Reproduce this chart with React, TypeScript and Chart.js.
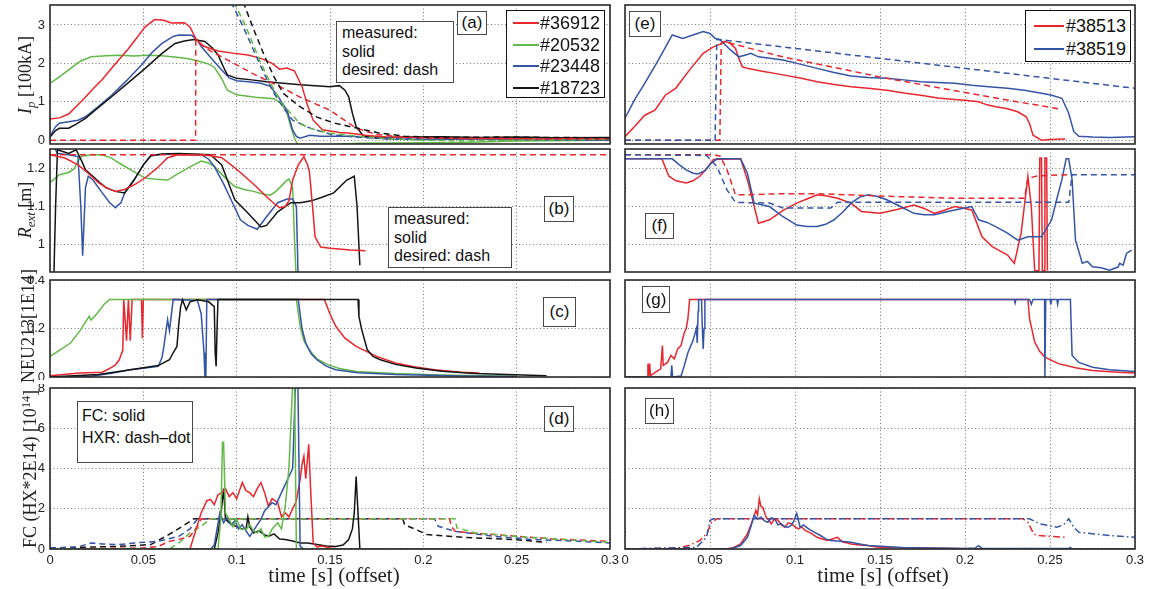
import React, { useEffect, useRef } from "react";
import { Chart, registerables } from "chart.js";
Chart.register(...registerables);

type Pt = [number, number];

const RED = "#e8262d";
const GREEN = "#63b948";
const BLUE = "#3454a6";
const BLACK = "#141414";

const X_TICKS = [0, 0.05, 0.1, 0.15, 0.2, 0.25, 0.3];
const X_TICK_LABELS = ["0", "0.05", "0.1", "0.15", "0.2", "0.25", "0.3"];
const IP_TICKS = [0, 1, 2, 3];
const IP_TICK_LABELS = ["0", "1", "2", "3"];
const REXT_TICKS = [1, 1.1, 1.2];
const REXT_TICK_LABELS = ["1", "1.1", "1.2"];
const NEU_TICKS = [0, 0.2, 0.4];
const NEU_TICK_LABELS = ["0", "0.2", "0.4"];
const FC_TICKS = [0, 2, 4, 6, 8];
const FC_TICK_LABELS = ["0", "2", "4", "6", "8"];

const LEFT_SHOTS = ["#36912", "#20532", "#23448", "#18723"];
const RIGHT_SHOTS = ["#38513", "#38519"];

// ---------- panel (a): plasma current ----------
const ipMeas36912: Pt[] = [[0,0.55],[0.005,0.58],[0.01,0.68],[0.017,1.02],[0.023,1.33],[0.028,1.58],[0.033,1.87],[0.042,2.38],[0.051,2.95],[0.056,3.14],[0.061,3.12],[0.065,3.05],[0.072,3.06],[0.075,2.95],[0.078,2.65],[0.082,2.45],[0.09,2.32],[0.099,2.26],[0.106,2.22],[0.113,2.13],[0.119,2.0],[0.123,1.85],[0.127,1.88],[0.131,1.8],[0.135,1.4],[0.138,0.9],[0.141,0.52],[0.146,0.27],[0.155,0.2],[0.161,0.18],[0.17,0.12],[0.18,0.08],[0.2,0.06],[0.22,0.04],[0.24,0.05],[0.26,0.03],[0.28,0.04],[0.3,0.03]];
const ipDes36912: Pt[] = [[0,0],[0.078,0],[0.0781,2.6],[0.085,2.35],[0.095,2.09],[0.11,1.7],[0.125,1.35],[0.134,1.12],[0.15,0.78],[0.164,0.31],[0.175,0.15],[0.19,0.08],[0.21,0.05],[0.24,0.04],[0.27,0.03],[0.3,0.03]];
const ipMeas20532: Pt[] = [[0,1.48],[0.005,1.65],[0.01,1.83],[0.016,2.05],[0.022,2.17],[0.03,2.2],[0.037,2.21],[0.045,2.19],[0.052,2.21],[0.06,2.2],[0.068,2.16],[0.074,2.12],[0.081,2.04],[0.085,1.98],[0.088,1.9],[0.092,1.6],[0.095,1.3],[0.1,1.18],[0.11,1.12],[0.12,1.08],[0.124,0.95],[0.127,0.7],[0.129,0.35],[0.131,0.05],[0.133,-0.15],[0.15,-0.12],[0.165,-0.08],[0.2,-0.07],[0.22,-0.06],[0.25,-0.02],[0.3,0.0]];
const ipDes20532: Pt[] = [[0.0985,3.6],[0.105,2.95],[0.113,2.0],[0.118,1.5],[0.123,1.04],[0.128,0.75],[0.134,0.43],[0.14,0.3],[0.15,0.18],[0.165,0.1],[0.18,0.04],[0.2,0.0],[0.22,-0.02],[0.25,0.0],[0.3,0.02]];
const ipMeas23448: Pt[] = [[0,0.1],[0.003,0.35],[0.005,0.44],[0.01,0.48],[0.015,0.52],[0.019,0.61],[0.026,0.88],[0.033,1.17],[0.041,1.55],[0.049,1.96],[0.055,2.3],[0.06,2.52],[0.066,2.7],[0.069,2.74],[0.076,2.73],[0.079,2.6],[0.081,2.44],[0.087,2.1],[0.092,1.83],[0.096,1.62],[0.1,1.55],[0.106,1.52],[0.113,1.48],[0.118,1.4],[0.122,1.15],[0.127,0.78],[0.13,0.26],[0.132,0.1],[0.134,0.05],[0.139,0.13],[0.145,0.1],[0.16,0.1],[0.17,0.08],[0.18,0.03],[0.2,0.02],[0.23,0.03],[0.26,0.01],[0.3,0.0]];
const ipDes23448: Pt[] = [[0.097,3.6],[0.104,2.9],[0.111,2.13],[0.116,1.6],[0.12,1.22],[0.125,0.85],[0.13,0.52],[0.14,0.3],[0.152,0.13],[0.17,0.06],[0.2,0.04],[0.25,0.03],[0.3,0.01]];
const ipMeas18723: Pt[] = [[0,0.08],[0.003,0.25],[0.005,0.31],[0.01,0.31],[0.014,0.42],[0.019,0.57],[0.026,0.85],[0.033,1.13],[0.042,1.5],[0.051,1.87],[0.06,2.26],[0.067,2.52],[0.072,2.58],[0.077,2.62],[0.083,2.57],[0.087,2.4],[0.09,2.22],[0.093,1.9],[0.095,1.7],[0.1,1.61],[0.108,1.57],[0.116,1.52],[0.125,1.48],[0.134,1.44],[0.142,1.42],[0.15,1.39],[0.155,1.42],[0.158,1.3],[0.16,1.13],[0.162,0.7],[0.164,0.35],[0.168,0.1],[0.175,0.06],[0.19,0.08],[0.21,0.09],[0.23,0.07],[0.25,0.08],[0.27,0.06],[0.3,0.07]];
const ipDes18723: Pt[] = [[0.1035,3.6],[0.109,2.9],[0.115,2.18],[0.12,1.65],[0.125,1.22],[0.133,0.9],[0.143,0.6],[0.152,0.45],[0.161,0.35],[0.175,0.2],[0.19,0.1],[0.21,0.07],[0.24,0.08],[0.27,0.07],[0.3,0.06]];

// ---------- panel (b): R_ext ----------
const rextDes36912: Pt[] = [[0,1.237],[0.3,1.237]];
const rextMeas36912: Pt[] = [[0,1.237],[0.008,1.228],[0.015,1.21],[0.02,1.19],[0.026,1.163],[0.03,1.15],[0.035,1.14],[0.04,1.145],[0.046,1.16],[0.051,1.176],[0.057,1.2],[0.063,1.229],[0.068,1.236],[0.074,1.237],[0.085,1.235],[0.092,1.229],[0.097,1.21],[0.102,1.19],[0.11,1.155],[0.116,1.126],[0.12,1.108],[0.123,1.097],[0.126,1.1],[0.128,1.115],[0.13,1.17],[0.133,1.21],[0.136,1.232],[0.138,1.21],[0.139,1.19],[0.141,1.08],[0.142,1.02],[0.145,0.993],[0.15,0.99],[0.161,0.985],[0.169,0.983]];
const rextMeas20532: Pt[] = [[0,1.163],[0.005,1.184],[0.01,1.19],[0.013,1.2],[0.015,1.22],[0.017,1.233],[0.022,1.237],[0.028,1.237],[0.033,1.228],[0.037,1.215],[0.044,1.195],[0.051,1.175],[0.057,1.172],[0.063,1.17],[0.068,1.185],[0.074,1.202],[0.081,1.22],[0.085,1.215],[0.088,1.206],[0.094,1.175],[0.099,1.153],[0.104,1.145],[0.109,1.14],[0.114,1.133],[0.118,1.13],[0.121,1.14],[0.123,1.15],[0.126,1.165],[0.128,1.173],[0.13,1.15],[0.131,1.01],[0.132,0.9]];
const rextMeas23448: Pt[] = [[0.002,1.26],[0.004,1.24],[0.01,1.237],[0.015,1.232],[0.0165,1.1],[0.0175,0.97],[0.019,1.15],[0.0205,1.18],[0.023,1.17],[0.028,1.136],[0.032,1.11],[0.035,1.097],[0.038,1.11],[0.04,1.136],[0.045,1.17],[0.05,1.21],[0.054,1.234],[0.06,1.238],[0.07,1.238],[0.081,1.237],[0.085,1.225],[0.088,1.206],[0.093,1.16],[0.097,1.118],[0.102,1.065],[0.106,1.05],[0.111,1.04],[0.116,1.073],[0.122,1.11],[0.127,1.12],[0.13,1.12],[0.132,1.1],[0.1325,1.0],[0.133,0.9]];
const rextMeas18723: Pt[] = [[0.002,0.9],[0.003,1.1],[0.004,1.25],[0.01,1.24],[0.014,1.25],[0.017,1.22],[0.019,1.197],[0.023,1.18],[0.026,1.166],[0.03,1.15],[0.035,1.14],[0.04,1.136],[0.045,1.17],[0.05,1.21],[0.054,1.234],[0.06,1.239],[0.069,1.24],[0.08,1.238],[0.086,1.237],[0.092,1.21],[0.095,1.17],[0.099,1.118],[0.106,1.083],[0.113,1.046],[0.116,1.05],[0.122,1.086],[0.129,1.11],[0.134,1.11],[0.14,1.115],[0.145,1.123],[0.152,1.136],[0.159,1.17],[0.163,1.18],[0.1645,1.1],[0.166,0.945]];

// ---------- panel (c): NEU213 ----------
const neu36912: Pt[] = [[0,0.005],[0.016,0.016],[0.028,0.02],[0.033,0.04],[0.035,0.05],[0.037,0.07],[0.039,0.11],[0.0395,0.32],[0.041,0.15],[0.042,0.32],[0.043,0.15],[0.044,0.32],[0.048,0.32],[0.049,0.32],[0.0495,0.16],[0.05,0.32],[0.147,0.32],[0.15,0.26],[0.153,0.21],[0.158,0.16],[0.164,0.126],[0.175,0.085],[0.185,0.058],[0.195,0.042],[0.206,0.03],[0.22,0.02],[0.23,0.016]];
const neu20532: Pt[] = [[0,0.085],[0.005,0.11],[0.011,0.14],[0.016,0.19],[0.021,0.25],[0.022,0.235],[0.025,0.26],[0.029,0.3],[0.032,0.32],[0.132,0.32],[0.134,0.21],[0.136,0.15],[0.139,0.11],[0.143,0.075],[0.149,0.05],[0.155,0.035],[0.164,0.023],[0.185,0.014],[0.21,0.008],[0.25,0.003]];
const neu23448: Pt[] = [[0,0],[0.022,0.003],[0.033,0.015],[0.043,0.03],[0.05,0.036],[0.058,0.044],[0.06,0.08],[0.061,0.126],[0.063,0.236],[0.064,0.19],[0.066,0.32],[0.079,0.315],[0.081,0.26],[0.0825,0.1],[0.083,0],[0.0835,0],[0.084,0.32],[0.133,0.32],[0.135,0.2],[0.137,0.14],[0.14,0.095],[0.143,0.071],[0.148,0.045],[0.153,0.03],[0.165,0.018],[0.185,0.01],[0.22,0.004],[0.25,0.002]];
const neu18723: Pt[] = [[0,0],[0.026,0.01],[0.043,0.03],[0.058,0.047],[0.064,0.071],[0.066,0.1],[0.068,0.126],[0.069,0.22],[0.07,0.29],[0.071,0.318],[0.073,0.277],[0.075,0.31],[0.079,0.318],[0.085,0.31],[0.088,0.29],[0.0885,0.1],[0.089,0.044],[0.0895,0.2],[0.09,0.32],[0.165,0.32],[0.1655,0.25],[0.167,0.195],[0.17,0.112],[0.173,0.085],[0.177,0.071],[0.185,0.052],[0.196,0.037],[0.21,0.024],[0.228,0.014],[0.266,0.005]];

// ---------- panel (d): FC (solid) and HXR (dash-dot) ----------
const fc36912: Pt[] = [[0,0],[0.075,0],[0.078,0.9],[0.081,1.8],[0.084,2.4],[0.086,2.47],[0.088,2.2],[0.09,2.7],[0.092,2.8],[0.094,3.0],[0.096,2.6],[0.098,2.8],[0.1,2.5],[0.103,3.3],[0.105,2.9],[0.107,2.8],[0.109,2.6],[0.111,3.0],[0.113,3.3],[0.115,2.8],[0.117,2.13],[0.119,2.5],[0.122,2.3],[0.124,1.6],[0.126,1.8],[0.128,1.6],[0.13,2.0],[0.132,2.4],[0.134,3.47],[0.135,4.2],[0.136,4.6],[0.137,3.5],[0.1386,5.2],[0.1396,3.0],[0.141,0.3],[0.143,0.1],[0.146,0.15],[0.15,0.05],[0.155,0],[0.3,0]];
const fc20532: Pt[] = [[0,0],[0.09,0],[0.0915,1.5],[0.0924,5.3],[0.093,5.3],[0.094,1.8],[0.096,1.47],[0.098,1.1],[0.1,1.5],[0.102,1.0],[0.105,0.97],[0.107,1.2],[0.109,0.9],[0.111,0.8],[0.113,1.0],[0.115,0.6],[0.117,0.63],[0.119,1.0],[0.122,1.3],[0.124,1.0],[0.126,2.1],[0.128,4.0],[0.13,8.2],[0.131,8.2],[0.132,0],[0.3,0]];
const fc23448: Pt[] = [[0,0],[0.086,0],[0.088,0.2],[0.091,1.8],[0.093,1.3],[0.095,1.6],[0.097,1.2],[0.099,1.4],[0.101,1.0],[0.103,1.2],[0.105,0.9],[0.107,0.63],[0.109,0.9],[0.111,1.2],[0.113,1.47],[0.115,1.9],[0.117,2.1],[0.119,2.3],[0.121,2.2],[0.124,2.8],[0.126,3.2],[0.128,3.6],[0.13,4.0],[0.1315,8.2],[0.1328,8.2],[0.134,0.13],[0.136,0],[0.3,0]];
const fc18723: Pt[] = [[0,0],[0.088,0],[0.09,0.8],[0.092,2.1],[0.093,3.0],[0.094,1.5],[0.096,1.3],[0.098,1.2],[0.1,1.1],[0.103,1.0],[0.105,0.97],[0.106,1.6],[0.107,1.1],[0.109,0.8],[0.112,0.9],[0.115,0.7],[0.117,0.63],[0.12,0.75],[0.123,0.5],[0.126,0.47],[0.13,0.4],[0.134,0.3],[0.138,0.3],[0.143,0.22],[0.148,0.15],[0.153,0.13],[0.157,0.2],[0.16,0.47],[0.162,1.0],[0.163,1.8],[0.164,3.6],[0.165,1.8],[0.166,0],[0.3,0]];
const hxr36912: Pt[] = [[0,0],[0.05,0.05],[0.058,0.13],[0.064,0.38],[0.07,0.5],[0.075,0.63],[0.079,1.13],[0.081,1.5],[0.214,1.5],[0.215,1.13],[0.217,0.88],[0.225,0.8],[0.238,0.72],[0.255,0.6],[0.27,0.5],[0.3,0.38]];
const hxr20532: Pt[] = [[0,0],[0.064,0],[0.069,0.3],[0.075,0.8],[0.081,1.13],[0.086,1.5],[0.217,1.5],[0.218,1.05],[0.228,0.8],[0.249,0.63],[0.27,0.5],[0.3,0.33]];
const hxr23448: Pt[] = [[0,0.05],[0.015,0.1],[0.022,0.3],[0.028,0.25],[0.037,0.22],[0.045,0.3],[0.058,0.38],[0.069,0.63],[0.075,1.0],[0.079,1.5],[0.206,1.5],[0.208,1.13],[0.217,0.88],[0.238,0.63],[0.259,0.47],[0.28,0.4],[0.3,0.3]];
const hxr18723: Pt[] = [[0,0.05],[0.037,0.13],[0.054,0.22],[0.062,0.63],[0.067,0.9],[0.071,1.13],[0.077,1.5],[0.189,1.5],[0.19,1.2],[0.196,0.97],[0.202,0.72],[0.215,0.62],[0.228,0.55],[0.249,0.47],[0.266,0.33]];

// ---------- panel (e) ----------
const ip38513: Pt[] = [[0,0.09],[0.0055,0.35],[0.0116,0.65],[0.0176,0.78],[0.0237,1.17],[0.0298,1.35],[0.038,1.83],[0.046,2.26],[0.052,2.43],[0.056,2.5],[0.059,2.57],[0.062,2.52],[0.065,2.39],[0.067,2.13],[0.069,1.91],[0.072,1.87],[0.08,1.8],[0.093,1.7],[0.103,1.62],[0.113,1.52],[0.123,1.45],[0.133,1.39],[0.143,1.35],[0.154,1.3],[0.164,1.23],[0.174,1.17],[0.184,1.1],[0.194,1.06],[0.2,1.04],[0.208,1.0],[0.213,0.92],[0.218,0.87],[0.225,0.82],[0.231,0.74],[0.236,0.61],[0.238,0.43],[0.24,0.13],[0.245,0],[0.25,0.02],[0.259,0.03]];
const ipDes38513: Pt[] = [[0,0],[0.0558,0],[0.0566,2.52],[0.058,2.57],[0.0927,2.17],[0.154,1.61],[0.214,1.13],[0.257,0.8]];
const ip38519: Pt[] = [[0,0.57],[0.0055,1.04],[0.0116,1.48],[0.0197,2.09],[0.0278,2.74],[0.0339,2.65],[0.04,2.74],[0.046,2.83],[0.05,2.78],[0.053,2.65],[0.056,2.61],[0.062,2.35],[0.067,2.17],[0.071,2.22],[0.074,2.26],[0.0785,2.17],[0.093,2.09],[0.103,1.98],[0.113,1.87],[0.123,1.76],[0.133,1.67],[0.143,1.63],[0.154,1.61],[0.164,1.57],[0.174,1.52],[0.184,1.5],[0.194,1.48],[0.204,1.43],[0.214,1.39],[0.225,1.35],[0.235,1.3],[0.245,1.22],[0.251,1.17],[0.257,1.09],[0.261,0.7],[0.264,0.22],[0.267,0.1],[0.275,0.08],[0.285,0.07],[0.3,0.09]];
const ipDes38519: Pt[] = [[0,0],[0.053,0],[0.054,2.63],[0.3,1.35]];

// ---------- panel (f) ----------
const rextDes38513: Pt[] = [[0,1.237],[0.052,1.237],[0.056,1.233],[0.06,1.197],[0.065,1.131],[0.072,1.131],[0.093,1.134],[0.113,1.134],[0.154,1.127],[0.194,1.122],[0.235,1.122],[0.237,1.175],[0.243,1.181],[0.26,1.184]];
const rextDes38519: Pt[] = [[0,1.237],[0.048,1.235],[0.054,1.206],[0.06,1.144],[0.065,1.111],[0.085,1.109],[0.093,1.096],[0.121,1.096],[0.125,1.111],[0.206,1.111],[0.261,1.111],[0.263,1.184],[0.3,1.184]];
const rext38513: Pt[] = [[0,1.226],[0.0217,1.226],[0.0258,1.18],[0.03,1.168],[0.036,1.162],[0.04,1.168],[0.044,1.18],[0.048,1.2],[0.052,1.224],[0.068,1.226],[0.072,1.171],[0.0785,1.056],[0.085,1.065],[0.093,1.09],[0.101,1.109],[0.107,1.12],[0.113,1.131],[0.119,1.128],[0.125,1.122],[0.133,1.109],[0.139,1.087],[0.15,1.082],[0.16,1.092],[0.17,1.104],[0.176,1.095],[0.182,1.082],[0.188,1.09],[0.194,1.1],[0.2,1.095],[0.204,1.091],[0.21,1.02],[0.216,0.994],[0.225,0.972],[0.229,0.95],[0.233,1.029],[0.237,1.18],[0.239,1.1],[0.241,0.93],[0.2435,0.93],[0.244,1.228],[0.245,1.228],[0.2455,0.93],[0.2465,0.93],[0.247,1.228],[0.248,1.228],[0.2485,0.93]];
const rext38519: Pt[] = [[0,1.226],[0.0278,1.226],[0.032,1.21],[0.036,1.197],[0.04,1.188],[0.043,1.186],[0.047,1.195],[0.05,1.211],[0.054,1.226],[0.068,1.226],[0.072,1.188],[0.076,1.109],[0.085,1.1],[0.093,1.073],[0.101,1.051],[0.107,1.047],[0.113,1.047],[0.118,1.053],[0.123,1.065],[0.128,1.085],[0.133,1.109],[0.138,1.125],[0.143,1.131],[0.148,1.127],[0.154,1.118],[0.162,1.1],[0.17,1.082],[0.176,1.078],[0.182,1.078],[0.188,1.085],[0.194,1.091],[0.204,1.1],[0.208,1.065],[0.213,1.058],[0.218,1.047],[0.225,1.03],[0.231,1.011],[0.237,1.02],[0.245,1.02],[0.251,1.065],[0.254,1.12],[0.257,1.171],[0.2595,1.226],[0.261,1.226],[0.263,1.171],[0.265,1.011],[0.269,0.95],[0.272,0.955],[0.275,0.941],[0.28,0.938],[0.285,0.932],[0.29,0.94],[0.291,0.95],[0.293,0.945],[0.295,0.976],[0.298,0.985]];

// ---------- panel (g) ----------
const neu38513: Pt[] = [[0,0],[0.013,0],[0.0135,0.055],[0.014,0.005],[0.0145,0.055],[0.015,0.005],[0.018,0.02],[0.021,0.034],[0.022,0.13],[0.0225,0.048],[0.025,0.06],[0.027,0.089],[0.029,0.075],[0.031,0.116],[0.033,0.13],[0.034,0.16],[0.035,0.185],[0.036,0.2],[0.037,0.24],[0.038,0.32],[0.237,0.32],[0.238,0.24],[0.241,0.144],[0.244,0.105],[0.247,0.082],[0.255,0.055],[0.265,0.038],[0.275,0.027],[0.29,0.02],[0.3,0.016]];
const neu38519: Pt[] = [[0,0],[0.027,0],[0.0275,0.048],[0.028,0],[0.033,0.004],[0.035,0.05],[0.037,0.1],[0.04,0.15],[0.042,0.2],[0.0425,0.14],[0.043,0.27],[0.0433,0.32],[0.045,0.32],[0.0455,0.2],[0.046,0.116],[0.0465,0.2],[0.047,0.32],[0.229,0.32],[0.2295,0.305],[0.23,0.32],[0.238,0.32],[0.239,0.3],[0.24,0.32],[0.2468,0.32],[0.247,0],[0.2475,0.32],[0.25,0.32],[0.2505,0.3],[0.251,0.32],[0.254,0.32],[0.2545,0.3],[0.255,0.32],[0.262,0.32],[0.263,0.089],[0.267,0.06],[0.275,0.04],[0.285,0.03],[0.3,0.023]];

// ---------- panel (h) ----------
const fc38513: Pt[] = [[0,0],[0.06,0],[0.064,0.08],[0.068,0.25],[0.072,0.75],[0.075,1.42],[0.077,1.92],[0.078,1.7],[0.079,2.5],[0.08,2.1],[0.081,2.08],[0.083,1.58],[0.085,1.4],[0.086,1.25],[0.088,1.5],[0.09,1.42],[0.092,1.2],[0.094,1.08],[0.096,1.3],[0.098,1.25],[0.1,1.1],[0.102,1.0],[0.104,1.1],[0.106,0.92],[0.11,0.75],[0.113,0.58],[0.116,0.5],[0.119,0.42],[0.122,0.5],[0.125,0.58],[0.128,0.35],[0.131,0.3],[0.133,0.25],[0.138,0.2],[0.143,0.17],[0.148,0.1],[0.153,0.08],[0.163,0.06],[0.173,0.05],[0.183,0.04],[0.194,0.03],[0.214,0],[0.3,0]];
const fc38519: Pt[] = [[0,0],[0.062,0],[0.068,0.17],[0.072,0.58],[0.074,1.1],[0.076,1.67],[0.078,1.5],[0.08,1.58],[0.082,1.4],[0.084,1.33],[0.086,1.55],[0.088,1.5],[0.09,1.2],[0.092,1.25],[0.094,1.1],[0.096,1.08],[0.098,1.2],[0.099,1.33],[0.101,1.78],[0.103,1.08],[0.105,1.2],[0.108,1.0],[0.111,0.85],[0.115,0.67],[0.118,0.5],[0.121,0.42],[0.127,0.38],[0.133,0.33],[0.138,0.25],[0.143,0.17],[0.153,0.12],[0.163,0.08],[0.18,0.05],[0.2,0.03],[0.206,0.05],[0.208,0.17],[0.21,0.03],[0.23,0.02],[0.261,0.02],[0.262,0.08],[0.263,0],[0.3,0]];
const hxr38513: Pt[] = [[0,0],[0.031,0.05],[0.0375,0.17],[0.044,0.42],[0.048,0.75],[0.051,1.33],[0.054,1.5],[0.234,1.5],[0.237,1.33],[0.2404,0.75],[0.2425,0.67],[0.2586,0.58]];
const hxr38519: Pt[] = [[0,0],[0.042,0.08],[0.048,0.58],[0.05,1.42],[0.052,1.5],[0.238,1.5],[0.244,1.25],[0.254,1.08],[0.258,1.2],[0.261,1.5],[0.264,1.08],[0.267,0.83],[0.285,0.67],[0.3,0.58]];

// ---------- layout ----------
interface Series { data: Pt[]; color: string; dash?: number[] }
interface PanelDef {
  col: 0 | 1; left: number; top: number; right: number; bottom: number;
  yMin: number; yMax: number; yTicks: number[]; yLabels: string[]; showY: boolean; xLabels: boolean;
  series: Series[];
}
const DASH = [6, 4];
const DASHDOT = [7, 3, 1.5, 3];
const LX0 = 50, LX1 = 610, RX0 = 625, RX1 = 1135;
const ROWS = [[5, 144], [149, 272], [280, 377], [388, 549]];

const PANELS: PanelDef[] = [
  { col: 0, left: LX0, right: LX1, top: ROWS[0][0], bottom: ROWS[0][1], yMin: -0.1, yMax: 3.52, yTicks: IP_TICKS, yLabels: IP_TICK_LABELS, showY: true, xLabels: false,
    series: [
      { data: ipDes18723, color: BLACK, dash: DASH }, { data: ipDes36912, color: RED, dash: DASH },
      { data: ipDes20532, color: GREEN, dash: DASH }, { data: ipDes23448, color: BLUE, dash: DASH },
      { data: ipMeas36912, color: RED }, { data: ipMeas18723, color: BLACK },
      { data: ipMeas23448, color: BLUE }, { data: ipMeas20532, color: GREEN },
    ] },
  { col: 0, left: LX0, right: LX1, top: ROWS[1][0], bottom: ROWS[1][1], yMin: 0.927, yMax: 1.252, yTicks: REXT_TICKS, yLabels: REXT_TICK_LABELS, showY: true, xLabels: false,
    series: [
      { data: rextDes36912, color: RED, dash: DASH },
      { data: rextMeas36912, color: RED }, { data: rextMeas18723, color: BLACK },
      { data: rextMeas23448, color: BLUE }, { data: rextMeas20532, color: GREEN },
    ] },
  { col: 0, left: LX0, right: LX1, top: ROWS[2][0], bottom: ROWS[2][1], yMin: 0, yMax: 0.4, yTicks: NEU_TICKS, yLabels: NEU_TICK_LABELS, showY: true, xLabels: false,
    series: [
      { data: neu18723, color: BLACK }, { data: neu23448, color: BLUE },
      { data: neu20532, color: GREEN }, { data: neu36912, color: RED },
    ] },
  { col: 0, left: LX0, right: LX1, top: ROWS[3][0], bottom: ROWS[3][1], yMin: 0, yMax: 8, yTicks: FC_TICKS, yLabels: FC_TICK_LABELS, showY: true, xLabels: true,
    series: [
      { data: fc20532, color: GREEN }, { data: fc23448, color: BLUE },
      { data: fc36912, color: RED }, { data: fc18723, color: BLACK },
      { data: hxr20532, color: GREEN, dash: DASH }, { data: hxr36912, color: RED, dash: DASH },
      { data: hxr23448, color: BLUE, dash: DASH }, { data: hxr18723, color: BLACK, dash: DASH },
    ] },
  { col: 1, left: RX0, right: RX1, top: ROWS[0][0], bottom: ROWS[0][1], yMin: -0.1, yMax: 3.52, yTicks: IP_TICKS, yLabels: IP_TICK_LABELS, showY: false, xLabels: false,
    series: [
      { data: ipDes38519, color: BLUE, dash: DASH }, { data: ipDes38513, color: RED, dash: DASH },
      { data: ip38519, color: BLUE }, { data: ip38513, color: RED },
    ] },
  { col: 1, left: RX0, right: RX1, top: ROWS[1][0], bottom: ROWS[1][1], yMin: 0.927, yMax: 1.252, yTicks: REXT_TICKS, yLabels: REXT_TICK_LABELS, showY: false, xLabels: false,
    series: [
      { data: rextDes38519, color: BLUE, dash: DASH }, { data: rextDes38513, color: RED, dash: DASH },
      { data: rext38519, color: BLUE }, { data: rext38513, color: RED },
    ] },
  { col: 1, left: RX0, right: RX1, top: ROWS[2][0], bottom: ROWS[2][1], yMin: 0, yMax: 0.4, yTicks: NEU_TICKS, yLabels: NEU_TICK_LABELS, showY: false, xLabels: false,
    series: [
      { data: neu38519, color: BLUE }, { data: neu38513, color: RED },
    ] },
  { col: 1, left: RX0, right: RX1, top: ROWS[3][0], bottom: ROWS[3][1], yMin: 0, yMax: 8, yTicks: FC_TICKS, yLabels: FC_TICK_LABELS, showY: false, xLabels: true,
    series: [
      { data: fc38519, color: BLUE }, { data: fc38513, color: RED },
      { data: hxr38519, color: BLUE, dash: DASHDOT }, { data: hxr38513, color: RED, dash: DASHDOT },
    ] },
];

function geom(p: PanelDef) {
  const ml = p.col === 0 ? p.left : 12;
  const mt = 4, mr = 14;
  const mb = p.xLabels ? 24 : 3;
  return { x: p.left - ml, y: p.top - mt, w: p.right - p.left + ml + mr, h: p.bottom - p.top + mt + mb, ml, mt, mr, mb };
}

const framePlugin = {
  id: "frame",
  afterDraw(chart: any) {
    const a = chart.chartArea;
    const ctx = chart.ctx;
    ctx.save();
    ctx.strokeStyle = "#2a2a2a";
    ctx.lineWidth = 1.6;
    ctx.setLineDash([]);
    ctx.strokeRect(a.left, a.top, a.right - a.left, a.bottom - a.top);
    ctx.restore();
  },
};

const TICK_FONT = { family: "'Liberation Sans', Arial, sans-serif", size: 13 };

function makeChart(canvas: HTMLCanvasElement, p: PanelDef) {
  const g = geom(p);
  const zeroPad = (s: any) => { s.paddingTop = 0; s.paddingBottom = 0; s.paddingLeft = 0; s.paddingRight = 0; };
  return new Chart(canvas, {
    type: "line",
    data: {
      datasets: p.series.map((s) => ({
        data: s.data.map(([x, y]) => ({ x, y })),
        borderColor: s.color,
        backgroundColor: s.color,
        borderWidth: 1.5,
        borderDash: s.dash ?? [],
        pointRadius: 0,
        fill: false,
        tension: 0,
      })),
    },
    options: {
      responsive: false,
      animation: false,
      devicePixelRatio: 1,
      layout: { padding: { left: 0, top: g.mt, right: g.mr, bottom: 0 } },
      plugins: { legend: { display: false }, tooltip: { enabled: false } },
      events: [],
      scales: {
        x: {
          type: "linear", min: 0, max: 0.3,
          afterBuildTicks: (s: any) => { s.ticks = X_TICKS.map((v) => ({ value: v })); },
          afterFit: (s: any) => { s.height = g.mb; zeroPad(s); },
          ticks: {
            display: p.xLabels, autoSkip: false, maxRotation: 0, minRotation: 0, padding: 4,
            font: TICK_FONT, color: "#222",
            callback: (_v: any, i: number) => X_TICK_LABELS[i],
          },
          grid: { color: "#555", lineWidth: 0.8, drawTicks: false },
          border: { display: false, dash: [1, 2.5] },
        },
        y: {
          type: "linear", min: p.yMin, max: p.yMax,
          afterBuildTicks: (s: any) => { s.ticks = p.yTicks.map((v) => ({ value: v })); },
          afterFit: (s: any) => { s.width = g.ml; zeroPad(s); },
          ticks: {
            display: p.showY, padding: 5, font: TICK_FONT, color: "#222",
            callback: (_v: any, i: number) => p.yLabels[i],
          },
          grid: { color: "#555", lineWidth: 0.8, drawTicks: false },
          border: { display: false, dash: [1, 2.5] },
        },
      },
    } as any,
    plugins: [framePlugin],
  });
}

const SANS = "'Liberation Sans', Arial, Helvetica, sans-serif";
const SERIF = "'Liberation Serif', 'Times New Roman', serif";

function Box(props: { l: number; t: number; w: number; h: number; children?: React.ReactNode; style?: React.CSSProperties }) {
  return (
    <div style={{ position: "absolute", left: props.l, top: props.t, width: props.w, height: props.h, boxSizing: "border-box",
      border: "1px solid #4a4a4a", background: "#fff", fontFamily: SANS, color: "#111", whiteSpace: "nowrap", ...props.style }}>
      {props.children}
    </div>
  );
}

function Tag(props: { l: number; t: number; w: number; h: number; text: string }) {
  return (
    <Box l={props.l} t={props.t} w={props.w} h={props.h}
      style={{ display: "flex", alignItems: "center", justifyContent: "center", fontSize: 17 }}>
      {props.text}
    </Box>
  );
}

function Legend(props: { l: number; t: number; w: number; h: number; rowY: number[]; lineX: [number, number]; textX: number; names: string[]; colors: string[] }) {
  return (
    <Box l={props.l} t={props.t} w={props.w} h={props.h} style={{ border: "1.3px solid #111" }}>
      {props.names.map((n, i) => (
        <React.Fragment key={n}>
          <div style={{ position: "absolute", left: props.lineX[0], width: props.lineX[1] - props.lineX[0], top: props.rowY[i] - 1, height: 2, background: props.colors[i] }} />
          <div style={{ position: "absolute", left: props.textX, top: props.rowY[i] - 11, lineHeight: "22px", fontSize: 18, whiteSpace: "nowrap" }}>{n}</div>
        </React.Fragment>
      ))}
    </Box>
  );
}

function YTitle(props: { cx: number; cy: number; children: React.ReactNode }) {
  return (
    <div style={{ position: "absolute", left: props.cx, top: props.cy, transform: "translate(-50%, -50%) rotate(-90deg)",
      whiteSpace: "nowrap", fontFamily: SERIF, fontSize: 18, color: "#222", lineHeight: "20px" }}>
      {props.children}
    </div>
  );
}

function XTitle(props: { cx: number; cy: number }) {
  return (
    <div style={{ position: "absolute", left: props.cx, top: props.cy, transform: "translate(-50%, -50%)",
      whiteSpace: "nowrap", fontFamily: SERIF, fontSize: 21, color: "#222", lineHeight: "22px" }}>
      time [s] (offset)
    </div>
  );
}

const subStyle: React.CSSProperties = { fontSize: "72%", verticalAlign: "-0.35em", fontStyle: "italic" };
const supStyle: React.CSSProperties = { fontSize: "68%", verticalAlign: "0.55em" };

export default function App() {
  const refs = useRef<(HTMLCanvasElement | null)[]>([]);
  useEffect(() => {
    const charts = PANELS.map((p, i) => makeChart(refs.current[i] as HTMLCanvasElement, p));
    return () => charts.forEach((c) => c.destroy());
  }, []);

  return (
    <div style={{ position: "absolute", left: 0, top: 0, width: 1153, height: 589, background: "#fff", overflow: "hidden" }}>
      {PANELS.map((p, i) => {
        const g = geom(p);
        return (
          <canvas key={i} ref={(el) => { refs.current[i] = el; }} width={g.w} height={g.h}
            style={{ position: "absolute", left: g.x, top: g.y, width: g.w, height: g.h }} />
        );
      })}

      {/* axis titles */}
      <YTitle cx={28} cy={75}><i>I</i><span style={subStyle}>p</span> [100kA]</YTitle>
      <YTitle cx={28} cy={210}><i>R</i><span style={subStyle}>ext</span> [m]</YTitle>
      <YTitle cx={28} cy={326}>NEU213[1E14]</YTitle>
      <YTitle cx={28} cy={469}>FC (HX*2E14) [10<span style={supStyle}>14</span>]</YTitle>
      <XTitle cx={334} cy={575} />
      <XTitle cx={883} cy={575} />

      {/* panel (a) annotations */}
      <Box l={336} t={21} w={118} h={62} style={{ fontSize: 16, lineHeight: "18.5px", padding: "2px 0 0 5px" }}>
        measured:<br />solid<br />desired: dash
      </Box>
      <Tag l={457} t={11} w={30} h={24} text="(a)" />
      <Legend l={506} t={10} w={99} h={88} rowY={[12, 34, 55, 77]} lineX={[6, 32]} textX={33}
        names={LEFT_SHOTS} colors={[RED, GREEN, BLUE, BLACK]} />

      {/* panel (b) */}
      <Box l={388} t={207} w={124} h={61} style={{ fontSize: 16, lineHeight: "18.5px", padding: "2px 0 0 5px" }}>
        measured:<br />solid<br />desired: dash
      </Box>
      <Tag l={544} t={196} w={30} h={26} text="(b)" />

      {/* panel (c) */}
      <Tag l={543} t={297} w={33} h={30} text="(c)" />

      {/* panel (d) */}
      <Box l={77} t={401} w={116} h={62} style={{ fontSize: 16, lineHeight: "22px", padding: "3px 0 0 4px" }}>
        FC: solid<br />HXR: dash–dot
      </Box>
      <Tag l={544} t={406} w={30} h={26} text="(d)" />

      {/* right column */}
      <Tag l={629} t={11} w={32} h={26} text="(e)" />
      <Legend l={1025} t={10} w={106} h={52} rowY={[15, 38]} lineX={[8, 38]} textX={40}
        names={RIGHT_SHOTS} colors={[RED, BLUE]} />
      <Tag l={645} t={213} w={29} h={26} text="(f)" />
      <Tag l={642} t={286} w={28} h={27} text="(g)" />
      <Tag l={645} t={398} w={29} h={26} text="(h)" />
    </div>
  );
}
